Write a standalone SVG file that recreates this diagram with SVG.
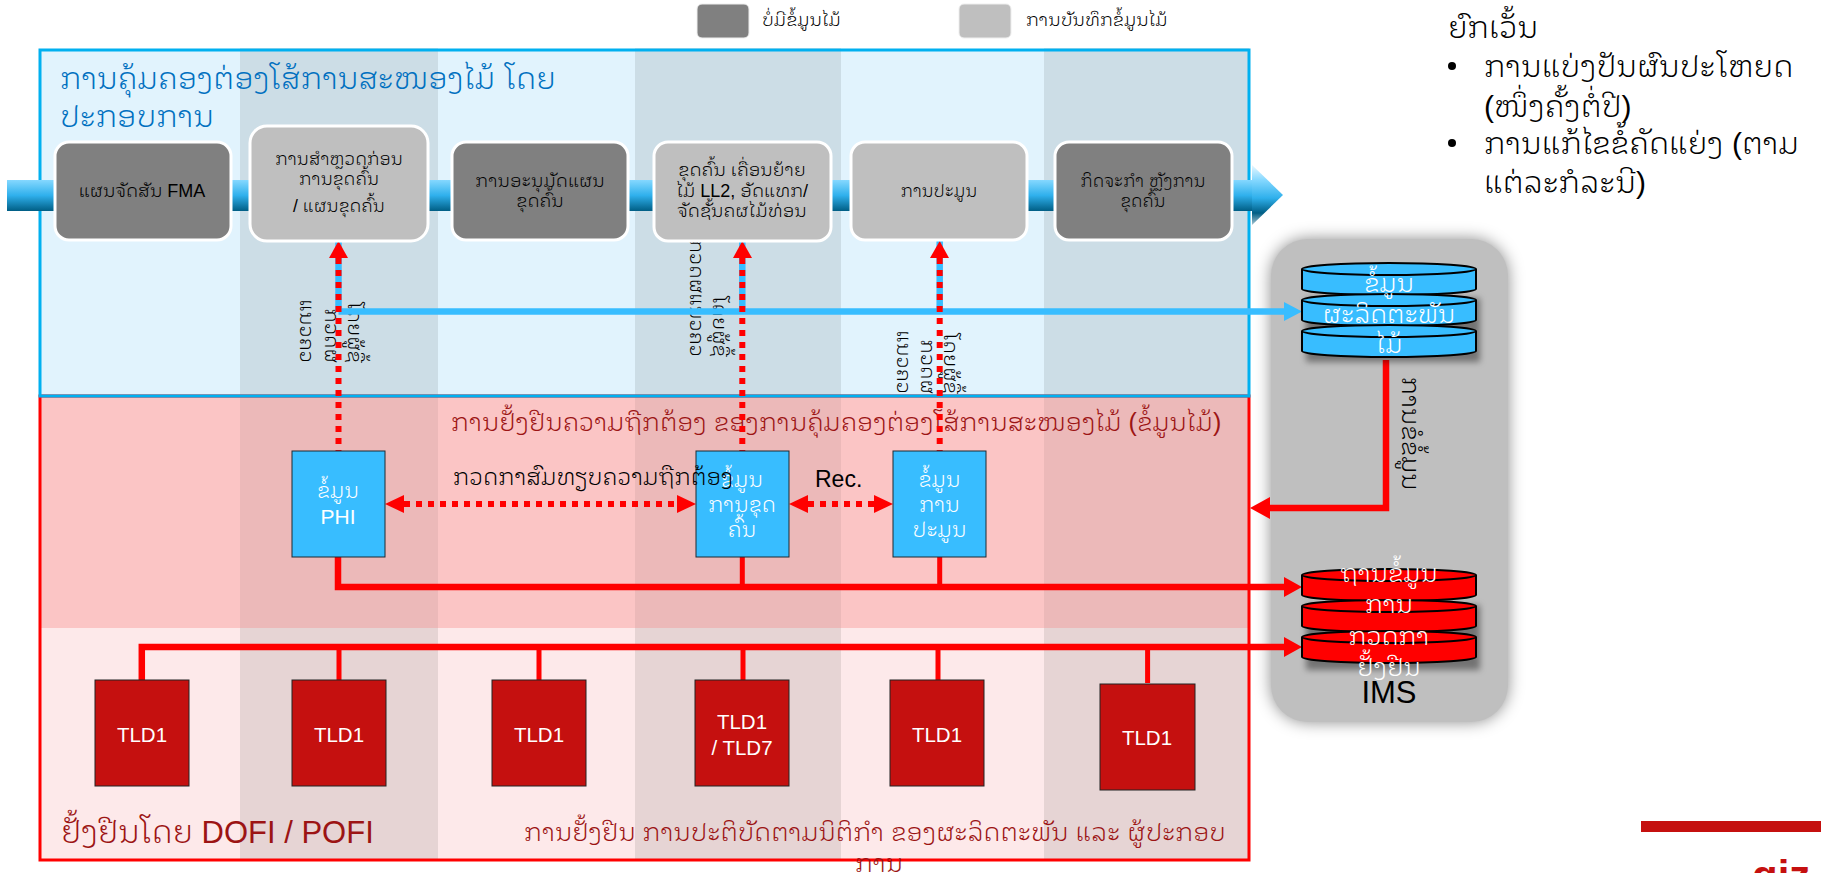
<svg xmlns="http://www.w3.org/2000/svg" width="1821" height="873" viewBox="0 0 1821 873">
<style>
text{font-family:"Liberation Sans","Noto Sans Lao Looped",sans-serif;fill:#000;font-weight:300}
.c{text-anchor:middle}
.wd{fill:#fff;font-size:21px}
.db{fill:#fff;font-size:25px;text-anchor:middle}
.t{fill:#fff;font-size:20.5px;text-anchor:middle}
.v{font-size:20px;text-anchor:end}
.dk{fill:#9C1414}
.r{font-size:30px}
.col{fill:#000;fill-opacity:.09}
.colr{fill:#000;fill-opacity:.06}
.nd{fill:#808080;stroke:#fff;stroke-width:3}
.nl{fill:#BFBFBF;stroke:#fff;stroke-width:3}
.box{fill:#38BDFF;stroke:#1c2a33;stroke-width:1}
.tld{fill:#C5100F;stroke:#222;stroke-width:1}
.rl{fill:none;stroke:#f00;stroke-width:6.5}
.rv{fill:none;stroke:#f00;stroke-width:5}
.dot{fill:none;stroke:#f00;stroke-width:6;stroke-dasharray:6 6}
.bl{fill:none;stroke:#38BDFF;stroke-width:6.5}
.cb{fill:#38BDFF;stroke:#000;stroke-width:2}
.cr{fill:#f00;stroke:#000;stroke-width:2}
</style>
<defs>
<linearGradient id="pipe" x1="0" y1="0" x2="0" y2="1"><stop offset="0" stop-color="#85D8FF"/><stop offset=".5" stop-color="#2FB0EC"/><stop offset="1" stop-color="#005E85"/></linearGradient>
<linearGradient id="head" x1="0" y1="0" x2="0" y2="1"><stop offset="0" stop-color="#E8F8FF"/><stop offset=".25" stop-color="#85D8FF"/><stop offset=".55" stop-color="#2FB0EC"/><stop offset=".8" stop-color="#005E85"/><stop offset="1" stop-color="#A9C6D3"/></linearGradient>
<filter id="soft" x="-20%" y="-20%" width="140%" height="140%"><feGaussianBlur stdDeviation="8"/></filter>
<filter id="sh" x="-10%" y="-20%" width="125%" height="150%"><feGaussianBlur stdDeviation="3"/></filter>
<clipPath id="upper"><rect x="0" y="0" width="1821" height="395"/></clipPath>
</defs>

<g id="legend">
<rect x="697" y="4" width="52" height="34" rx="5" fill="#808080" stroke="#eee"/>
<text x="762" y="26" font-size="18">ບໍ່ມີຂໍ້ມູນໄມ້</text>
<rect x="959" y="4" width="52" height="34" rx="5" fill="#BFBFBF" stroke="#eee"/>
<text x="1026" y="26" font-size="18">ການບັນທຶກຂໍ້ມູນໄມ້</text>
</g>

<g id="panels">
<rect x="40" y="50" width="1209" height="346" fill="#E1F3FD"/>
<rect x="40" y="396" width="1209" height="232" fill="#FBC5C5"/>
<rect x="40" y="628" width="1209" height="232" fill="#FDE9EA"/>
<rect class="col" x="240" y="48" width="198" height="348"/>
<rect class="col" x="635" y="48" width="206" height="348"/>
<rect class="col" x="1044" y="48" width="205" height="348"/>
<rect class="colr" x="240" y="396" width="198" height="232"/>
<rect class="colr" x="635" y="396" width="206" height="232"/>
<rect class="colr" x="1044" y="396" width="205" height="232"/>
<rect class="col" x="240" y="628" width="198" height="232"/>
<rect class="col" x="635" y="628" width="206" height="232"/>
<rect class="col" x="1044" y="628" width="205" height="232"/>
<rect x="40" y="396" width="1209" height="464" fill="none" stroke="#f00" stroke-width="3"/>
<rect x="40" y="50" width="1209" height="346" fill="none" stroke="#00B0F0" stroke-width="3"/>
<text x="60" y="89" font-size="30" style="fill:#0070C0">ການຄຸ້ມຄອງຕ່ອງໂສ້ການສະໜອງໄມ້ ໂດຍ</text>
<text x="60" y="127" font-size="30" style="fill:#0070C0">ປະກອບການ</text>
<text x="451" y="431" font-size="25" class="dk">ການຢັ້ງຢືນຄວາມຖືກຕ້ອງ ຂອງການຄຸ້ມຄອງຕ່ອງໂສ້ການສະໜອງໄມ້ (ຂໍ້ມູນໄມ້)</text>
<text x="61" y="843" font-size="31" class="dk">ຢັ້ງຢືນໂດຍ DOFI / POFI</text>
<text x="524" y="841" font-size="25" class="dk">ການຢັ້ງຢືນ ການປະຕິບັດຕາມນິຕິກໍາ ຂອງຜະລິດຕະພັນ ແລະ ຜູ້ປະກອບ</text>
<text x="879" y="872" font-size="25" class="dk c">ການ</text>
</g>

<g id="process-arrow">
<rect x="7" y="180" width="1246" height="31" fill="url(#pipe)"/>
<polygon points="1252,165 1283,195 1252,225" fill="url(#head)"/>
</g>

<g id="ims">
<rect x="1271" y="239" width="237" height="483" rx="37" fill="#000" fill-opacity=".45" filter="url(#soft)"/>
<rect x="1271" y="239" width="237" height="483" rx="37" fill="#BFBFBF"/>
<text x="1389" y="703" font-size="31" class="c">IMS</text>
<text transform="translate(1402,377) rotate(90)" font-size="25">ການຂໍຂໍ້ມູນ</text>
</g>

<g id="vertical-labels" clip-path="url(#upper)">
<text class="v" transform="translate(348,363) rotate(90)">ໂດຍຜູ້ຊື້</text>
<text class="v" transform="translate(325,363) rotate(90)">ກວດຜ</text>
<text class="v" transform="translate(300,363) rotate(90)">ແນວຄວ</text>
<text class="v" transform="translate(713,357) rotate(90)">ໂດຍຜູ້ຊື້</text>
<text class="v" transform="translate(690,357) rotate(90)">ກວດຜແນວຄວ</text>
<text class="v" transform="translate(944,394) rotate(90)">ໂດຍຜູ້ຊື້</text>
<text class="v" transform="translate(921,394) rotate(90)">ກວດຜ</text>
<text class="v" transform="translate(897,394) rotate(90)">ແນວຄວ</text>
</g>

<g id="connectors">
<path class="bl" d="M338.5 240V311.5M742.3 240V311.5M939.7 240V311.5M338.5 311.5H1286"/>
<polygon points="1284,302 1302,311.5 1284,321" fill="#38BDFF"/>
<path class="dot" d="M338.5 258V451M742.3 258V451M939.7 258V451"/>
<polygon points="338.5,241 329,258 348,258" fill="#f00"/>
<polygon points="742.3,241 733,258 752,258" fill="#f00"/>
<polygon points="939.7,241 930,258 949,258" fill="#f00"/>
<path class="dot" d="M404 504H677M808 504H874"/>
<polygon points="385,504 404,495 404,513" fill="#f00"/>
<polygon points="696,504 677,495 677,513" fill="#f00"/>
<polygon points="789,504 808,495 808,513" fill="#f00"/>
<polygon points="893,504 874,495 874,513" fill="#f00"/>
<path class="rl" d="M1386 360V508H1270"/>
<polygon points="1250,508 1270,497 1270,519" fill="#f00"/>
<path class="rl" d="M338 557V587H1286"/>
<path class="rv" d="M742.3 557V587M939.7 557V587"/>
<polygon points="1302,587 1284,577 1284,597" fill="#f00"/>
<path class="rl" d="M141.8 680V647H1286"/>
<path class="rv" d="M339 680V647M539 680V647M743 680V647M938 680V647M1147.6 683V647"/>
<polygon points="1302,647 1284,637 1284,657" fill="#f00"/>
</g>

<g id="n1"><rect class="nd" x="55" y="142" width="176" height="98" rx="14"/><text class="c" font-size="18" x="142" y="197">ແຜນຈັດສັນ FMA</text></g>
<g id="n2" font-size="17.5"><rect class="nl" x="250" y="126" width="178" height="115" rx="17"/><text class="c" x="339" y="165">ການສໍາຫຼວດກ່ອນ</text><text class="c" x="339" y="185">ການຂຸດຄົ້ນ</text><text class="c" x="339" y="212">/ ແຜນຂຸດຄົ້ນ</text></g>
<g id="n3" font-size="18"><rect class="nd" x="452" y="142" width="176" height="98" rx="14"/><text class="c" x="540" y="187">ການອະນຸມັດແຜນ</text><text class="c" x="540" y="207">ຂຸດຄົ້ນ</text></g>
<g id="n4" font-size="18"><rect class="nl" x="654" y="142" width="177" height="99" rx="14"/><text class="c" x="742" y="176">ຂຸດຄົ້ນ ເຄື່ອນຍ້າຍ</text><text class="c" x="742" y="197">ໄມ້ LL2, ອັດແທກ/</text><text class="c" x="742" y="217">ຈັດຊັ້ນຄຜໄມ້ທ່ອນ</text></g>
<g id="n5" font-size="17"><rect class="nl" x="851" y="142" width="176" height="98" rx="14"/><text class="c" x="939" y="197">ການປະມູນ</text></g>
<g id="n6" font-size="17"><rect class="nd" x="1055" y="142" width="177" height="98" rx="14"/><text class="c" x="1143" y="187">ກິດຈະກໍາ ຫຼັງການ</text><text class="c" x="1143" y="207">ຂຸດຄົ້ນ</text></g>

<g id="d1"><rect class="box" x="292" y="451" width="93" height="106"/><text class="wd c" x="338" y="498">ຂໍ້ມູນ</text><text class="wd c" x="338" y="524">PHI</text></g>
<g id="d2"><rect class="box" x="696" y="451" width="93" height="106"/><text class="wd c" x="742" y="487">ຂໍ້ມູນ</text><text class="wd c" x="742" y="512">ການຂຸດ</text><text class="wd c" x="742" y="537">ຄົ້ນ</text></g>
<g id="d3"><rect class="box" x="893" y="451" width="93" height="106"/><text class="wd c" x="939.5" y="487">ຂໍ້ມູນ</text><text class="wd c" x="939.5" y="512">ການ</text><text class="wd c" x="939.5" y="537">ປະມູນ</text></g>
<text x="453" y="485" font-size="22.7">ກວດກາສົມທຽບຄວາມຖືກຕ້ອງ</text>
<text x="815" y="487" font-size="23">Rec.</text>

<g id="t1"><rect class="tld" x="95" y="680" width="94" height="106"/><text class="t" x="142" y="742">TLD1</text></g>
<g id="t2"><rect class="tld" x="292" y="680" width="94" height="106"/><text class="t" x="339" y="742">TLD1</text></g>
<g id="t3"><rect class="tld" x="492" y="680" width="94" height="106"/><text class="t" x="539" y="742">TLD1</text></g>
<g id="t4"><rect class="tld" x="695" y="680" width="94" height="106"/><text class="t" x="742" y="729">TLD1</text><text class="t" x="742" y="755">/ TLD7</text></g>
<g id="t5"><rect class="tld" x="890" y="680" width="94" height="106"/><text class="t" x="937" y="742">TLD1</text></g>
<g id="t6"><rect class="tld" x="1100" y="684" width="95" height="106"/><text class="t" x="1147" y="745">TLD1</text></g>

<g id="db-timber">
<path d="M1306 298H1480V362H1306Z" fill="#000" fill-opacity=".4" filter="url(#sh)"/>
<path class="cb" d="M1302 269V289A87 6 0 0 0 1476 289V269A87 6 0 0 0 1302 269A87 6 0 0 0 1476 269"/>
<path class="cb" d="M1302 300V320A87 6 0 0 0 1476 320V300A87 6 0 0 0 1302 300A87 6 0 0 0 1476 300"/>
<path class="cb" d="M1302 331V351A87 6 0 0 0 1476 351V331A87 6 0 0 0 1302 331A87 6 0 0 0 1476 331"/>
<text class="db" x="1389" y="292">ຂໍ້ມູນ</text><text class="db" x="1389" y="323">ຜະລິດຕະພັນ</text><text class="db" x="1389" y="353">ໄມ້</text>
</g>
<g id="db-verify">
<path d="M1306 605H1480V670H1306Z" fill="#000" fill-opacity=".4" filter="url(#sh)"/>
<path class="cr" d="M1302 575V595A87 6 0 0 0 1476 595V575A87 6 0 0 0 1302 575A87 6 0 0 0 1476 575"/>
<path class="cr" d="M1302 606V626A87 6 0 0 0 1476 626V606A87 6 0 0 0 1302 606A87 6 0 0 0 1476 606"/>
<path class="cr" d="M1302 637V657A87 6 0 0 0 1476 657V637A87 6 0 0 0 1302 637A87 6 0 0 0 1476 637"/>
<text class="db" x="1389" y="582">ຖານຂໍ້ມູນ</text><text class="db" x="1389" y="613">ການ</text><text class="db" x="1389" y="645">ກວດກາ</text><text class="db" x="1389" y="676">ຢັ້ງຢືນ</text>
</g>

<g id="notes">
<text class="r" x="1448" y="38">ຍົກເວັ້ນ</text>
<circle cx="1452" cy="66" r="4"/>
<text class="r" x="1484" y="77">ການແບ່ງປັນຜົນປະໂຫຍດ</text>
<text class="r" x="1484" y="117">(ໜຶ່ງຄັ້ງຕໍ່ປີ)</text>
<circle cx="1452" cy="143" r="4"/>
<text class="r" x="1484" y="154">ການແກ້ໄຂຂໍ້ຄັດແຍ່ງ (ຕາມ</text>
<text class="r" x="1484" y="193">ແຕ່ລະກໍລະນີ)</text>
</g>

<g id="logo">
<rect x="1641" y="821" width="180" height="11" fill="#C5100F"/>
<text x="1752" y="890" font-size="42" style="fill:#C5100F;font-weight:700">giz</text>
</g>
</svg>
